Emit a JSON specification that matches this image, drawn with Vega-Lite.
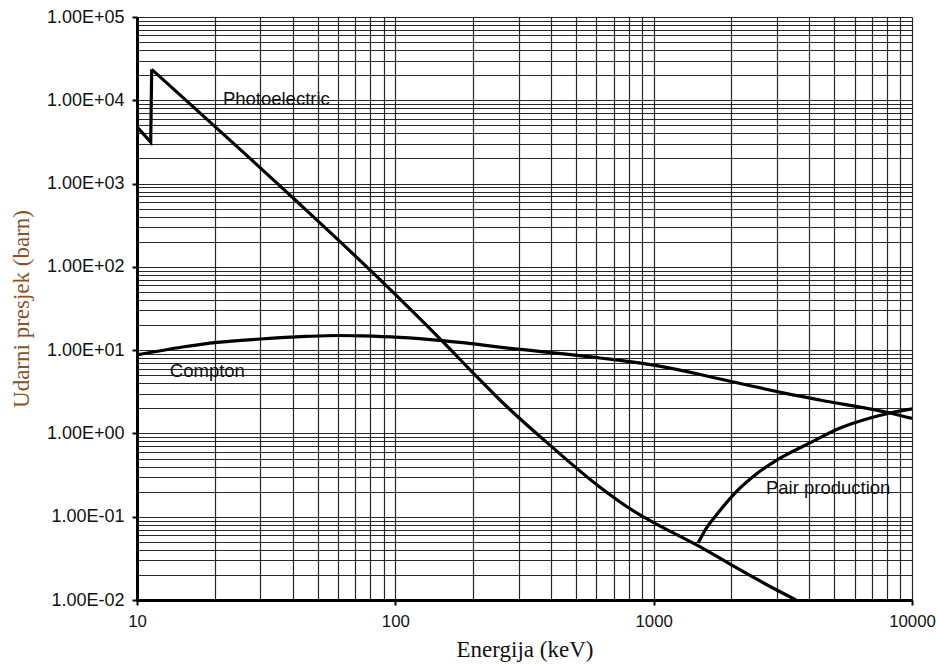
{
  "$schema": "https://vega.github.io/schema/vega-lite/v6.json",
  "width": 775,
  "height": 583,
  "autosize": "none",
  "padding": {"left": 137, "top": 17, "right": 24, "bottom": 64},
  "background": "white",
  "datasets": {
    "curves": [
      {"series": "Edge", "i": 0, "E": 10, "s": 4800},
      {"series": "Edge", "i": 1, "E": 11.3, "s": 3150},
      {"series": "Edge", "i": 2, "E": 11.4, "s": 23500},
      {"series": "Photoelectric", "i": 0, "E": 11.4, "s": 23500},
      {"series": "Photoelectric", "i": 1, "E": 40.2, "s": 671},
      {"series": "Photoelectric", "i": 2, "E": 82, "s": 84.5},
      {"series": "Photoelectric", "i": 3, "E": 152, "s": 12.8},
      {"series": "Photoelectric", "i": 4, "E": 207, "s": 4.77},
      {"series": "Photoelectric", "i": 5, "E": 254, "s": 2.52},
      {"series": "Photoelectric", "i": 6, "E": 404, "s": 0.689},
      {"series": "Photoelectric", "i": 7, "E": 604, "s": 0.241},
      {"series": "Photoelectric", "i": 8, "E": 885, "s": 0.105},
      {"series": "Photoelectric", "i": 9, "E": 1000, "s": 0.085},
      {"series": "Photoelectric", "i": 10, "E": 1515, "s": 0.0434},
      {"series": "Photoelectric", "i": 11, "E": 2015, "s": 0.026},
      {"series": "Photoelectric", "i": 12, "E": 3006, "s": 0.0131},
      {"series": "Photoelectric", "i": 13, "E": 3557, "s": 0.01},
      {"series": "Compton", "i": 0, "E": 10, "s": 8.75},
      {"series": "Compton", "i": 1, "E": 15, "s": 10.9},
      {"series": "Compton", "i": 2, "E": 20.4, "s": 12.4},
      {"series": "Compton", "i": 3, "E": 30, "s": 13.6},
      {"series": "Compton", "i": 4, "E": 45, "s": 14.6},
      {"series": "Compton", "i": 5, "E": 60, "s": 15.0},
      {"series": "Compton", "i": 6, "E": 75, "s": 14.8},
      {"series": "Compton", "i": 7, "E": 104, "s": 14.2},
      {"series": "Compton", "i": 8, "E": 152, "s": 13.0},
      {"series": "Compton", "i": 9, "E": 304, "s": 10.2},
      {"series": "Compton", "i": 10, "E": 620, "s": 8.05},
      {"series": "Compton", "i": 11, "E": 1000, "s": 6.6},
      {"series": "Compton", "i": 12, "E": 1515, "s": 5.1},
      {"series": "Compton", "i": 13, "E": 1808, "s": 4.5},
      {"series": "Compton", "i": 14, "E": 3690, "s": 2.8},
      {"series": "Compton", "i": 15, "E": 4400, "s": 2.52},
      {"series": "Compton", "i": 16, "E": 8220, "s": 1.76},
      {"series": "Compton", "i": 17, "E": 10000, "s": 1.51},
      {"series": "Pair production", "i": 0, "E": 1486, "s": 0.0484},
      {"series": "Pair production", "i": 1, "E": 1600, "s": 0.073},
      {"series": "Pair production", "i": 2, "E": 1758, "s": 0.107},
      {"series": "Pair production", "i": 3, "E": 2030, "s": 0.182},
      {"series": "Pair production", "i": 4, "E": 2512, "s": 0.33},
      {"series": "Pair production", "i": 5, "E": 3006, "s": 0.481},
      {"series": "Pair production", "i": 6, "E": 4027, "s": 0.769},
      {"series": "Pair production", "i": 7, "E": 5272, "s": 1.16},
      {"series": "Pair production", "i": 8, "E": 6890, "s": 1.53},
      {"series": "Pair production", "i": 9, "E": 8220, "s": 1.76},
      {"series": "Pair production", "i": 10, "E": 10000, "s": 1.97}
    ],
    "labels": [
      {"text": "Photoelectric", "E": 21.5, "s": 8790},
      {"text": "Compton", "E": 13.4, "s": 4.76},
      {"text": "Pair production", "E": 2720, "s": 0.188}
    ]
  },
  "layer": [
    {
      "data": {"name": "curves"},
      "transform": [{"filter": "datum.series !== 'Edge'"}],
      "mark": {"type": "line", "stroke": "black", "strokeWidth": 3.2, "interpolate": "monotone", "clip": true},
      "encoding": {
        "x": {
          "field": "E", "type": "quantitative",
          "scale": {"type": "log", "domain": [10, 10000], "nice": false},
          "axis": {
            "title": "Energija (keV)",
            "values": [10,20,30,40,50,60,70,80,90,100,200,300,400,500,600,700,800,900,1000,2000,3000,4000,5000,6000,7000,8000,9000,10000],
            "labelExpr": "abs(log(datum.value)/LN10 - round(log(datum.value)/LN10)) < 0.001 ? format(datum.value, 'd') : ''",
            "tickOpacity": {"condition": {"test": "abs(log(datum.value)/LN10 - round(log(datum.value)/LN10)) < 0.001", "value": 1}, "value": 0},
            "labelFontSize": 16.8,
            "titleY": 56,
            "titleBaseline": "alphabetic"
          }
        },
        "y": {
          "field": "s", "type": "quantitative",
          "scale": {"type": "log", "domain": [0.01, 100000], "nice": false},
          "axis": {
            "title": "Udarni presjek (barn)",
            "values": [0.01,0.02,0.03,0.04,0.05,0.06,0.07,0.08,0.09,0.1,0.2,0.3,0.4,0.5,0.6,0.7,0.8,0.9,1,2,3,4,5,6,7,8,9,10,20,30,40,50,60,70,80,90,100,200,300,400,500,600,700,800,900,1000,2000,3000,4000,5000,6000,7000,8000,9000,10000,20000,30000,40000,50000,60000,70000,80000,90000,100000],
            "labelExpr": "abs(log(datum.value)/LN10 - round(log(datum.value)/LN10)) < 0.001 ? '1.00E' + (round(log(datum.value)/LN10) < 0 ? '-' : '+') + '0' + abs(round(log(datum.value)/LN10)) : ''",
            "tickOpacity": {"condition": {"test": "abs(log(datum.value)/LN10 - round(log(datum.value)/LN10)) < 0.001", "value": 1}, "value": 0},
            "labelFontSize": 18,
            "titleX": -116,
            "titleBaseline": "middle",
            "titleColor": "#8a5222"
          }
        },
        "detail": {"field": "series"},
        "order": {"field": "i", "type": "quantitative"}
      }
    },
    {
      "data": {"name": "curves"},
      "transform": [{"filter": "datum.series === 'Edge'"}],
      "mark": {"type": "line", "stroke": "black", "strokeWidth": 3.2, "interpolate": "linear", "clip": true},
      "encoding": {
        "x": {"field": "E", "type": "quantitative"},
        "y": {"field": "s", "type": "quantitative"},
        "order": {"field": "i", "type": "quantitative"}
      }
    },
    {
      "data": {"name": "labels"},
      "mark": {"type": "text", "align": "left", "baseline": "alphabetic", "font": "Liberation Sans", "fontSize": 18.5, "color": "#111"},
      "encoding": {
        "x": {"field": "E", "type": "quantitative"},
        "y": {"field": "s", "type": "quantitative"},
        "text": {"field": "text"}
      }
    }
  ],
  "config": {
    "view": {"stroke": null},
    "axis": {
      "grid": true,
      "gridColor": "#111111",
      "gridWidth": 1.2,
      "gridOpacity": 0.9,
      "domainColor": "black",
      "domainWidth": 3,
      "tickColor": "black",
      "tickWidth": 2,
      "tickSize": 5,
      "labelFont": "Liberation Sans",
      "labelColor": "#111",
      "labelPadding": 8,
      "labelOverlap": false,
      "labelFlush": false,
      "titleFont": "Liberation Serif",
      "titleFontSize": 23,
      "titleFontWeight": "normal",
      "titleColor": "#111"
    }
  }
}
